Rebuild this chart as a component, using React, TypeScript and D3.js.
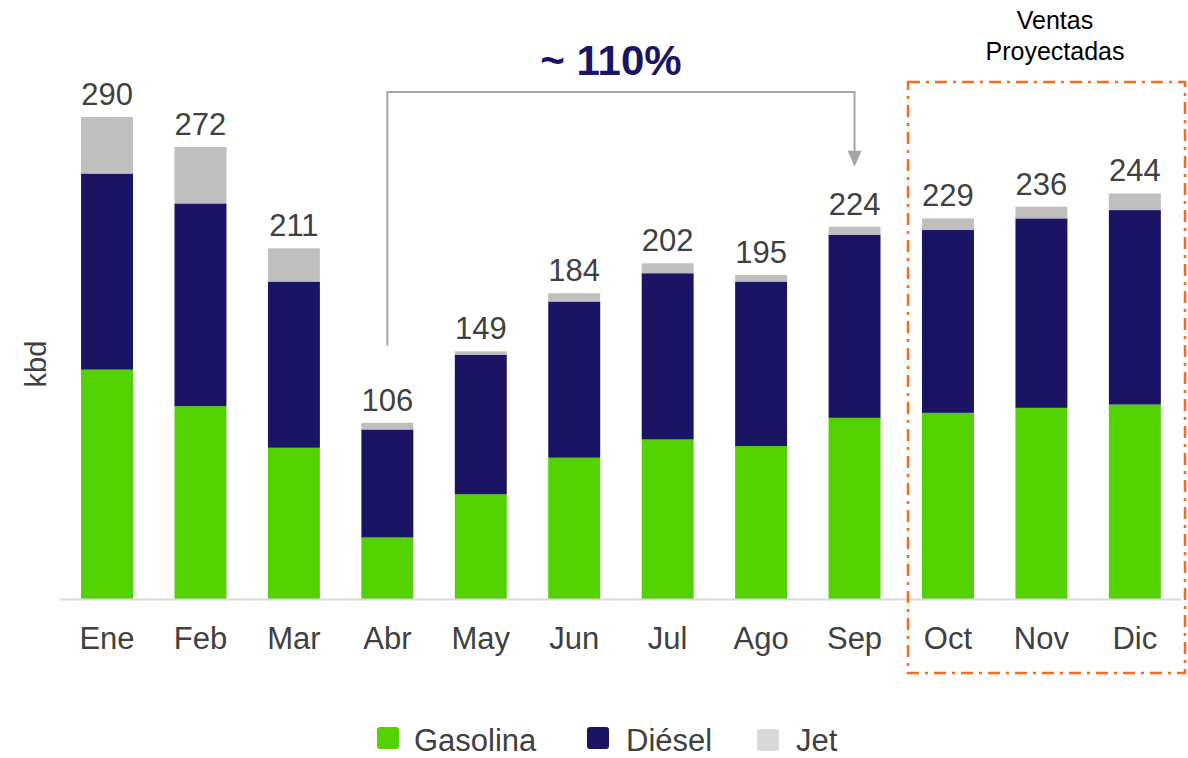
import React from "react";
import * as d3 from "d3";

const months = ["Ene", "Feb", "Mar", "Abr", "May", "Jun", "Jul", "Ago", "Sep", "Oct", "Nov", "Dic"];
const gasolina = [138, 116, 91, 37, 63, 85, 96, 92, 109, 112, 115, 117];
const diesel = [118, 122, 100, 65, 84, 94, 100, 99, 110, 110, 114, 117];
const jet = [34, 34, 20, 4, 2, 5, 6, 4, 5, 7, 7, 10];
const totals = [290, 272, 211, 106, 149, 184, 202, 195, 224, 229, 236, 244];
const seriesNames = ["Gasolina", "Diésel", "Jet"];
const seriesColors = ["#53d100", "#1b1464", "#bfbfbf"];
const legendColors = ["#53d100", "#1b1464", "#d9d9d9"];

const W = 1188;
const H = 758;
const FONT = "'Liberation Sans', Arial, sans-serif";

export default function App() {
  const x = d3
    .scaleBand<string>()
    .domain(months)
    .range([60.5, 1181.4])
    .paddingInner(0.444)
    .paddingOuter(0.22);
  const y = d3.scaleLinear().domain([0, 290]).range([599, 117]);

  const rows = months.map((m, i) => ({ m, Gasolina: gasolina[i], "Diésel": diesel[i], Jet: jet[i] }));
  const stack = d3.stack<any>().keys(seriesNames)(rows);

  const bw = x.bandwidth();
  const cx = (m: string) => (x(m) ?? 0) + bw / 2;

  const abrX = cx("Abr");
  const sepX = cx("Sep");
  const bracketTop = 92;
  const bracketLeftBottom = y(totals[3]) - 77;
  const arrowTip = y(totals[8]) - 60;

  const legendItems = [
    { name: "Gasolina", sx: 377, tx: 414, dy: 0 },
    { name: "Diésel", sx: 587, tx: 626, dy: 0 },
    { name: "Jet", sx: 757, tx: 796, dy: 2 },
  ];

  return (
    <svg width={W} height={H} style={{ position: "absolute", left: 0, top: 0 }} fontFamily={FONT}>
      <rect width={W} height={H} fill="#ffffff" />
      {stack.map((s, si) => (
        <g key={si} fill={seriesColors[si]}>
          {s.map((d, i) => (
            <rect key={i} x={x(months[i])} width={bw} y={y(d[1])} height={y(d[0]) - y(d[1])} />
          ))}
        </g>
      ))}
      <line x1={60} x2={1181} y1={y(0) + 0.5} y2={y(0) + 0.5} stroke="#d9d9d9" strokeWidth={2} />
      {months.map((m, i) => (
        <text key={m} x={cx(m)} y={y(totals[i]) - 12} textAnchor="middle" fontSize={31} fill="#404040">
          {totals[i]}
        </text>
      ))}
      {months.map((m) => (
        <text key={m} x={cx(m)} y={649} textAnchor="middle" fontSize={31} fill="#404040">
          {m}
        </text>
      ))}
      <text transform="translate(46,364) rotate(-90)" textAnchor="middle" fontSize={29} fill="#404040">
        kbd
      </text>
      {/* bracket */}
      <path
        d={`M${abrX},${bracketLeftBottom} V${bracketTop} H${sepX} V${arrowTip - 14}`}
        fill="none"
        stroke="#a6a6a6"
        strokeWidth={2}
      />
      <path d={`M${sepX - 7},${arrowTip - 16} L${sepX + 7},${arrowTip - 16} L${sepX},${arrowTip} Z`} fill="#a6a6a6" />
      <text x={611} y={75} textAnchor="middle" fontSize={42} fontWeight="bold" fill="#1b1464">
        ~ 110%
      </text>
      {/* projected box */}
      <rect
        x={908}
        y={82}
        width={277}
        height={591}
        fill="none"
        stroke="#fb6a1b"
        strokeWidth={2.5}
        strokeDasharray="12 6 3 6"
      />
      <text x={1055} y={29} textAnchor="middle" fontSize={25} fill="#000000">
        Ventas
      </text>
      <text x={1055} y={60} textAnchor="middle" fontSize={25} fill="#000000">
        Proyectadas
      </text>
      {/* legend */}
      {legendItems.map((l, i) => (
        <g key={l.name}>
          <rect x={l.sx} y={727 + l.dy} width={22} height={22} rx={3} fill={legendColors[i]} />
          <text x={l.tx} y={751} fontSize={31} fill="#404040">
            {l.name}
          </text>
        </g>
      ))}
    </svg>
  );
}
